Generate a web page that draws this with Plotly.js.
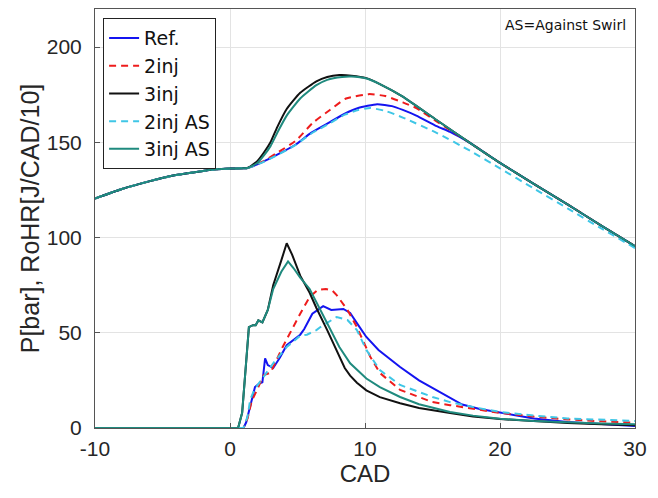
<!DOCTYPE html>
<html>
<head>
<meta charset="utf-8">
<script src="https://cdn.plot.ly/plotly-3.0.1.min.js"></script>
<style>html,body{margin:0;padding:0;background:#fff;}#plot{width:658px;height:498px;}</style>
</head>
<body>
<div id="plot"></div>
<script>
// Common pressure before combustion
const pCommonX = [-10, -8, -6, -4, -2, -1, 0, 1];
const pCommonY = [120.5, 125.5, 129.5, 132.8, 135, 135.8, 136.2, 136.4];

// Pressure traces (after divergence)
const p3injX = [1.3, 2, 2.5, 3, 3.5, 4.2, 5.2, 6.4, 7.2, 8.1, 9, 10.1, 11.1, 12.8, 15.3, 17.8, 20, 22.5, 25, 27.5, 30];
const p3injY = [136.5, 140, 144.5, 150, 158, 167.5, 176, 182, 184.3, 185.3, 185, 183.7, 180.6, 174, 161.7, 149.6, 139.2, 128.2, 117.4, 106.3, 95.5];

const p3injASX = [1.3, 2, 2.5, 3, 3.5, 4.2, 5.2, 6.4, 7.2, 8.3, 9, 10.1, 11.1, 12.8, 15.3, 17.8, 20, 22.5, 25, 27.5, 30];
const p3injASY = [136.5, 139, 143, 148, 155, 164, 173, 180, 182.8, 184.3, 184.5, 183.5, 180.6, 174, 161.7, 149.6, 139.2, 128.2, 117.4, 106.3, 95.5];

const pRefX = [1.3, 2.4, 3.5, 4.9, 6, 7.4, 8.5, 9.5, 10.9, 12, 12.8, 13.8, 15.3, 16.3, 17.8, 20, 22.5, 25, 27.5, 30];
const pRefY = [136.5, 139.6, 143.5, 149, 155, 160.6, 165, 168, 170, 169, 167, 164, 158.5, 155.5, 149.6, 139.2, 128.2, 117.4, 106.3, 95.5];

const p2injX = [1.3, 2.4, 3.5, 4.9, 6.1, 7.4, 8.6, 10.3, 11.5, 12.8, 13.8, 15.3, 16.3, 17.8, 20, 22.5, 25, 27.5, 30];
const p2injY = [136.5, 139.8, 144.5, 151, 160, 167, 173, 175.3, 174.3, 171, 168, 161, 156.5, 149.6, 139.2, 128.2, 117.4, 106.3, 95.5];

const p2injASX = [1.3, 2.4, 3.5, 4.9, 6, 7.4, 8.5, 9.5, 10.4, 11.5, 12.8, 15.3, 17.8, 20, 22.5, 25, 27.5, 30];
const p2injASY = [136.5, 139.5, 143.3, 148.8, 154.5, 160, 164.5, 167, 168, 166.5, 163, 155, 145.5, 136.3, 125.8, 115.3, 104.8, 94.5];

// Rate of heat release traces
const rRefX = [-10, 1.0, 1.2, 1.5, 1.85, 2.2, 2.4, 2.6, 2.8, 3.2, 3.7, 4.2, 5.2, 5.5, 6.1, 6.9, 7.5, 8.4, 8.9, 9.5, 10.1, 11, 12.6, 14, 15, 16.3, 17.2, 18.5, 20, 22.5, 25, 27.5, 30];
const rRefY = [0, 0, 3, 11, 21.5, 23.5, 24, 36.5, 33, 31.5, 37, 43.5, 49, 52, 60, 64, 62, 62.5, 60.4, 54, 47.8, 41, 32, 25, 21, 15.5, 12.3, 10, 8, 5, 3.2, 2, 1];

const r2injX = [-10, 1.0, 1.3, 1.6, 2.0, 2.5, 3.0, 3.9, 5.2, 5.9, 6.5, 7.1, 7.6, 7.9, 8.7, 9.4, 10.4, 11.1, 12.6, 15, 16.3, 18, 20, 22.5, 25, 27.5, 30];
const r2injY = [0, 0, 5, 14, 20, 27.8, 29, 42.5, 60, 68.8, 72.5, 73, 72, 69.8, 62, 53, 37.3, 28.9, 20, 13.6, 12, 10, 7.9, 6, 4.5, 3.5, 2.8];

const r3injX = [-10, 0.6, 0.9, 1.2, 1.4, 1.7, 1.9, 2.1, 2.4, 2.8, 3.2, 3.8, 4.2, 4.6, 5.2, 5.9, 6.4, 7.2, 7.6, 8.1, 8.5, 8.9, 9.4, 10.1, 11.1, 12.6, 14, 16.3, 18, 20, 22.5, 25, 27.5, 30];
const r3injY = [0, 0, 8, 35, 53, 54, 54, 56.5, 55.5, 62, 75, 88, 97, 91, 80, 71, 63, 51.4, 45, 37, 31.5, 27.5, 23.8, 19.8, 16.2, 13, 10.5, 7.9, 6, 4.7, 3.5, 2.6, 2, 1.5];

const r2injASX = [-10, 1.0, 1.3, 1.5, 1.8, 2.2, 2.7, 3.2, 4.2, 5.2, 5.7, 6.4, 6.7, 7.4, 7.9, 8.7, 9.4, 10.1, 11.1, 12.6, 15, 16.3, 18, 20, 22.5, 25, 27.5, 30];
const r2injASY = [0, 0, 6, 15, 20, 24, 29, 34, 42.5, 48.5, 49, 51.4, 53, 56, 58.3, 56.7, 51.4, 41, 30.4, 22.6, 16.3, 13.6, 11, 8.4, 6.5, 5, 4.2, 3.7];

const r3injASX = [-10, 0.6, 0.9, 1.2, 1.4, 1.7, 1.9, 2.1, 2.4, 2.8, 3.2, 3.8, 4.3, 4.7, 5.2, 5.9, 6.4, 7.2, 8.1, 8.9, 9.4, 10.1, 11.1, 12.6, 14, 16.3, 18, 20, 22.5, 25, 27.5, 30];
const r3injASY = [0, 0, 8, 35, 53, 54, 54, 56.5, 55.5, 62, 73, 82, 87.5, 84, 79, 73, 66, 55, 42.5, 34, 30.5, 26, 21.5, 16.3, 12.5, 8.4, 6.5, 4.8, 3.7, 3, 2.4, 2];

const names = ['Ref.', '2inj', '3inj', '2inj AS', '3inj AS'];
const colors = ['#1414f0', '#ee1c1c', '#111111', '#3fc6e6', '#1f8a7e'];
const dashes = ['solid', '7px,5px', 'solid', '7px,5px', 'solid'];

const pX = [pRefX, p2injX, p3injX, p2injASX, p3injASX];
const pY = [pRefY, p2injY, p3injY, p2injASY, p3injASY];
const rX = [rRefX, r2injX, r3injX, r2injASX, r3injASX];
const rY = [rRefY, r2injY, r3injY, r2injASY, r3injASY];

const traces = [];
names.forEach((n, i) => {
  traces.push({
    x: pCommonX.concat(pX[i]), y: pCommonY.concat(pY[i]),
    mode: 'lines', name: n, legendgroup: n, showlegend: false,
    line: {color: colors[i], width: 2, dash: dashes[i], shape: 'spline', smoothing: 0.5},
    hoverinfo: 'skip'
  });
});
names.forEach((n, i) => {
  traces.push({
    x: rX[i], y: rY[i],
    mode: 'lines', name: n, legendgroup: n, showlegend: true,
    line: {color: colors[i], width: 2, dash: dashes[i]},
    hoverinfo: 'skip'
  });
});

const layout = {
  width: 658, height: 498,
  margin: {l: 95, r: 23, t: 9, b: 70},
  paper_bgcolor: '#ffffff', plot_bgcolor: '#ffffff',
  font: {family: 'Liberation Sans, Arial, sans-serif', color: '#262626'},
  showlegend: true,
  legend: {
    x: 0.015, y: 0.978, xanchor: 'left', yanchor: 'top',
    bgcolor: '#ffffff', bordercolor: '#222222', borderwidth: 1,
    font: {family: 'DejaVu Sans, sans-serif', size: 19, color: '#111111'}, tracegroupgap: 0,
    traceorder: 'grouped'
  },
  xaxis: {
    range: [-10, 30], tickvals: [-10, 0, 10, 20, 30], ticktext: ['-10', '0', '10', '20', '30'],
    showgrid: true, gridcolor: '#e3e3e3', gridwidth: 1, zeroline: false,
    showline: true, linecolor: '#555555', linewidth: 1, mirror: true,
    ticks: 'inside', ticklen: 5, tickcolor: '#555555',
    tickfont: {size: 21, color: '#262626'}, ticklabelstandoff: 2,
    title: {text: 'CAD', font: {size: 24, color: '#262626'}, standoff: 0}
  },
  yaxis: {
    range: [0, 220], tickvals: [0, 50, 100, 150, 200],
    showgrid: true, gridcolor: '#e3e3e3', gridwidth: 1, zeroline: false,
    showline: true, linecolor: '#555555', linewidth: 1, mirror: true,
    ticks: 'inside', ticklen: 5, tickcolor: '#555555',
    tickfont: {size: 21, color: '#262626'}, ticklabelstandoff: 8,
    title: {text: 'P[bar], RoHR[J/CAD/10]', font: {size: 25, color: '#262626'}, standoff: 0}
  },
  annotations: [{
    xref: 'paper', yref: 'paper', x: 0.987, y: 0.962, xanchor: 'right', yanchor: 'middle',
    text: 'AS=Against Swirl', showarrow: false,
    font: {family: 'DejaVu Sans, sans-serif', size: 14, color: '#111111'}
  }]
};

Plotly.newPlot('plot', traces, layout, {displayModeBar: false, staticPlot: true});
</script>
</body>
</html>
